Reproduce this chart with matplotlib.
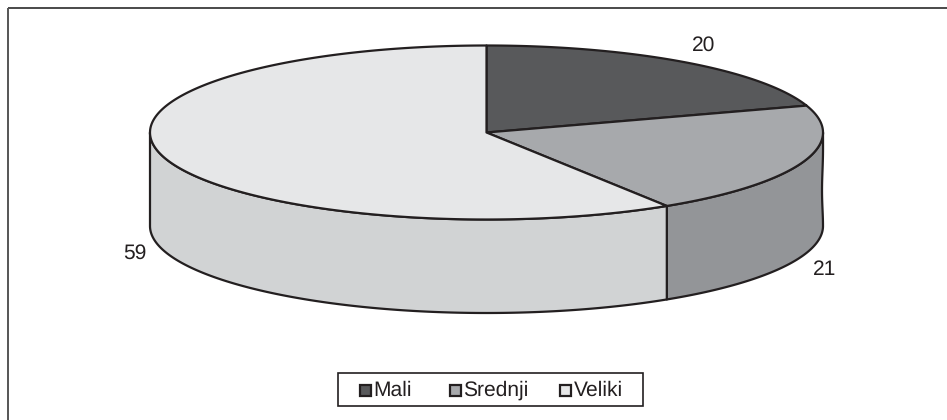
import numpy as np
import matplotlib
matplotlib.use("Agg")
import matplotlib.pyplot as plt
from matplotlib.patches import Polygon, Rectangle

categories = ["Mali", "Srednji", "Veliki"]
values = [20, 21, 59]
labels = ["20", "21", "59"]
top_colors = ["#58595b", "#a7a9ac", "#e6e7e8"]
side_colors = ["#414042", "#939598", "#d1d3d4"]
edge = "#231f20"

W, H = 947, 420
cx, cy, rx, ry, depth = 486.5, 132.5, 336.5, 87, 93.5

plt.rcParams["font.family"] = ["Liberation Sans", "DejaVu Sans"]
plt.rcParams["text.hinting"] = "no_hinting"
plt.rcParams["text.hinting_factor"] = 1
fig = plt.figure(figsize=(W / 100, H / 100), dpi=100)
ax = fig.add_axes([0, 0, 1, 1])
ax.set_xlim(0, W)
ax.set_ylim(H, 0)
ax.axis("off")

# open frame: only top and left edges are visible
ax.plot([8, W], [8, 8], color="#3a3a3a", lw=1.3, solid_capstyle="butt")
ax.plot([8, 8], [8, H], color="#555555", lw=1.4, solid_capstyle="butt")


def pt(t, dy=0.0):
    return cx + rx * np.cos(t), cy - ry * np.sin(t) + dy


fr = np.cumsum([0] + values) / sum(values)
angles = np.pi / 2 - 2 * np.pi * fr

# side walls: visible only on the front half of the ellipse
for i in range(len(values)):
    a0, a1 = angles[i], angles[i + 1]
    lo, hi = max(a1, -np.pi), min(a0, 0.0)
    if hi <= lo:
        continue
    t = np.linspace(hi, lo, 200)
    xt, yt = pt(t)
    xb, yb = pt(t[::-1], depth)
    pts = np.r_[np.c_[xt, yt], np.c_[xb, yb]]
    if hi == 0.0:
        # slightly wavy right-hand edge of the wall
        s = np.linspace(1, 0, 40)
        xw = cx + rx - 2.2 * np.sin(np.pi * s) ** 2 * s + 0.6 * np.sin(np.pi * s) ** 2 * (1 - s)
        yw = cy + depth * s
        pts = np.r_[pts, np.c_[xw, yw]]
    ax.add_patch(Polygon(pts, closed=True, fc=side_colors[i], ec=edge, lw=1.6,
                         joinstyle="round", zorder=2))

# top faces
for i in range(len(values)):
    t = np.linspace(angles[i], angles[i + 1], 300)
    xt, yt = pt(t)
    ax.add_patch(Polygon(np.r_[[[cx, cy]], np.c_[xt, yt]], closed=True,
                         fc=top_colors[i], ec=edge, lw=1.6, joinstyle="round", zorder=3))

# value labels
label_pos = [(704, 45), (825, 270), (135, 253)]
for s, (x, y) in zip(labels, label_pos):
    ax.text(x, y, s, fontsize=15.4, color=edge, ha="center", va="center", zorder=5)

# legend
ax.add_patch(Rectangle((337.5, 372.5), 305.5, 33, fc="white", ec=edge, lw=1.2, zorder=4))
legend_x = [359.5, 449.5, 559.5]
for name, col, x in zip(categories, top_colors, legend_x):
    ax.add_patch(Rectangle((x, 384.5), 11, 11, fc=col, ec=edge, lw=1.6, zorder=5))
    ax.text(x + 14, 390, name, fontsize=15.4, color=edge, ha="left", va="center", zorder=5)

fig.savefig("out.png", dpi=100, facecolor="white")
